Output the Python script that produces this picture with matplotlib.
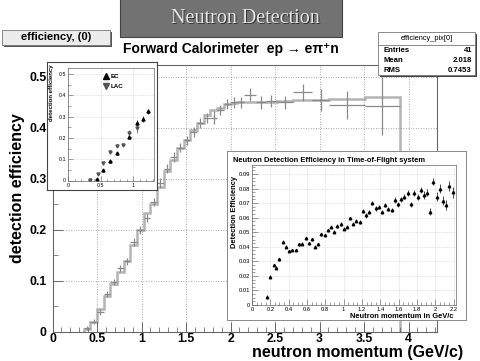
import matplotlib
matplotlib.use('Agg')
import matplotlib.pyplot as plt
from matplotlib.patches import Rectangle
from matplotlib.lines import Line2D
from matplotlib.ticker import MultipleLocator

plt.rcParams['font.family'] = ['Liberation Sans', 'DejaVu Sans']

W, H = 480, 361

# main plot: forward calorimeter, ep -> e pi+ n
hist_edges = [0.35, 0.425, 0.50, 0.575, 0.65, 0.725, 0.80, 0.875, 0.95, 1.025,
              1.10, 1.175, 1.25, 1.325, 1.40, 1.475, 1.55, 1.625, 1.70, 1.775,
              1.85, 1.925, 2.00, 2.075, 2.15, 2.29, 2.40, 2.52, 2.70, 2.92,
              3.11, 3.51, 3.90]
hist_vals = [0.005, 0.02, 0.045, 0.07, 0.095, 0.118, 0.14, 0.17, 0.2, 0.233,
             0.25, 0.284, 0.316, 0.337, 0.36, 0.376, 0.396, 0.41, 0.425, 0.435,
             0.44, 0.447, 0.449, 0.45, 0.45, 0.45, 0.451, 0.452, 0.455, 0.455,
             0.457, 0.46]
pts_vals = [0.008, 0.02, 0.039, 0.075, 0.098, 0.125, 0.139, 0.176, 0.20, 0.224,
            0.255, 0.292, 0.32, 0.343, 0.361, 0.376, 0.392, 0.41, 0.42, 0.42,
            0.435, 0.447, 0.45, 0.45, 0.465, 0.45, 0.453, 0.45, 0.47, 0.455,
            0.445, 0.443]
pts_errs = [0.004, 0.005, 0.006, 0.006, 0.006, 0.007, 0.007, 0.008, 0.008, 0.008,
            0.008, 0.009, 0.009, 0.009, 0.009, 0.009, 0.01, 0.01, 0.01, 0.013,
            0.01, 0.01, 0.01, 0.011, 0.013, 0.012, 0.012, 0.012, 0.017, 0.022,
            0.027, 0.057]

# small inset: EC / LAC
ec_x = [0.44, 0.54, 0.65, 0.75, 0.94, 1.06, 1.15, 1.23]
ec_y = [0.005, 0.05, 0.09, 0.127, 0.205, 0.27, 0.29, 0.325]
ec_err = [0.004, 0.006, 0.006, 0.007, 0.01, 0.012, 0.014, 0.012]
lac_x = [0.34, 0.46, 0.54, 0.65, 0.75, 0.85, 0.94, 1.06]
lac_y = [0.003, 0.03, 0.08, 0.133, 0.164, 0.168, 0.225, 0.245]
lac_err = [0.004, 0.006, 0.007, 0.008, 0.008, 0.008, 0.01, 0.02]

# time-of-flight inset
tof_x = [0.164, 0.2, 0.236, 0.265, 0.30, 0.335, 0.375, 0.407, 0.44, 0.48,
         0.513, 0.55, 0.585, 0.618, 0.655, 0.687, 0.72, 0.756, 0.793, 0.825,
         0.865, 0.90, 0.93, 0.967, 1.0, 1.036, 1.073, 1.105, 1.14, 1.175,
         1.21, 1.247, 1.276, 1.313, 1.35, 1.385, 1.418, 1.455, 1.49, 1.527,
         1.556, 1.593, 1.63, 1.66, 1.70, 1.734, 1.77, 1.807, 1.843, 1.88,
         1.913, 1.945, 1.98, 2.02, 2.05, 2.087, 2.12, 2.156, 2.19]
tof_y = [0.0057, 0.0195, 0.0275, 0.0256, 0.0314, 0.0435, 0.040, 0.037, 0.0378, 0.0378,
         0.0417, 0.042, 0.0458, 0.0424, 0.0451, 0.040, 0.0417, 0.0486, 0.0481, 0.0513,
         0.0538, 0.0504, 0.0543, 0.0556, 0.0524, 0.0538, 0.0595, 0.056, 0.058, 0.057,
         0.0648, 0.0616, 0.0637, 0.0703, 0.0664, 0.0675, 0.064, 0.0687, 0.066, 0.0653,
         0.0721, 0.0692, 0.0726, 0.0744, 0.0767, 0.0692, 0.0767, 0.0744, 0.079, 0.0756,
         0.0772, 0.0641, 0.0847, 0.0744, 0.080, 0.0717, 0.0687, 0.082, 0.0774]
tof_err = [0.0015, 0.0008, 0.0010, 0.0012, 0.0012, 0.0012, 0.0010, 0.0008, 0.0008, 0.0008,
           0.0010, 0.0010, 0.0010, 0.0010, 0.0010, 0.0010, 0.0010, 0.0012, 0.0010, 0.0010,
           0.0010, 0.0010, 0.0012, 0.0012, 0.0012, 0.0012, 0.0012, 0.0012, 0.0012, 0.0012,
           0.0015, 0.0015, 0.0015, 0.0015, 0.0015, 0.0015, 0.0015, 0.0015, 0.0015, 0.0015,
           0.0018, 0.0018, 0.0018, 0.0018, 0.0020, 0.0018, 0.0020, 0.0020, 0.0022, 0.0025,
           0.0025, 0.0025, 0.0025, 0.0030, 0.0030, 0.0030, 0.0035, 0.0035, 0.0040]

stats_rows = [("Entries", "41"), ("Mean", "2.018"), ("RMS", "0.7453")]


def rect(x0, y0, x1, y1):
    return [x0 / W, (H - y1) / H, (x1 - x0) / W, (y1 - y0) / H]


def fx(x):
    return x / W


def fy(y):
    return 1 - y / H


fig = plt.figure(figsize=(4.8, 3.61), dpi=100)
fig.patch.set_facecolor('white')

# ---- main axes
ax = fig.add_axes(rect(52.5, 65, 437, 332))
ax.stairs(hist_vals, hist_edges, color='#b4b4b4', lw=1.8, baseline=0)
centers = [(a + b) / 2 for a, b in zip(hist_edges[:-1], hist_edges[1:])]
halfw = [(b - a) / 2 for a, b in zip(hist_edges[:-1], hist_edges[1:])]
ax.errorbar(centers, pts_vals, xerr=halfw, yerr=pts_errs, fmt='none',
            ecolor='#8a8a8a', elinewidth=0.9)
ax.set_xlim(0, 4.32)
ax.set_ylim(0, 0.5235)
ax.xaxis.set_minor_locator(MultipleLocator(0.1))
ax.yaxis.set_minor_locator(MultipleLocator(0.05))
ax.set_xticks([0, 0.5, 1, 1.5, 2, 2.5, 3, 3.5, 4])
ax.set_xticklabels(['0', '0.5', '1', '1.5', '2', '2.5', '3', '3.5', '4'])
ax.set_yticks([0, 0.1, 0.2, 0.3, 0.4, 0.5])
ax.set_yticklabels(['0', '0.1', '0.2', '0.3', '0.4', '0.5'])
ax.tick_params(direction='in', which='major', length=7, width=0.6, labelsize=8.8,
               colors='#555555', labelcolor='black')
ax.tick_params(axis='x', which='major', pad=0.5)
ax.tick_params(axis='y', which='major', pad=4.5)
ax.tick_params(direction='in', which='minor', length=3.5, width=0.5, colors='#555555')
for lab in ax.get_xticklabels() + ax.get_yticklabels():
    lab.set_fontweight('bold')
ax.grid(True, which='major', linestyle=(0, (1, 2)), color='#8c8c8c', lw=0.6)
for s in ax.spines.values():
    s.set_color('#666666')
    s.set_linewidth(0.8)
fig.text(fx(18), fy(188), 'detection efficiency', rotation=90, ha='center', va='center',
         fontsize=11.5, fontweight='bold')
fig.text(fx(463), fy(353), 'neutron momentum (GeV/c)', ha='right', va='center',
         fontsize=11.5, fontweight='bold')

# ---- small inset (EC / LAC)
pad1 = fig.add_axes(rect(47, 62, 157, 190))
pad1.set_xticks([])
pad1.set_yticks([])
for s in pad1.spines.values():
    s.set_color('#444444')
    s.set_linewidth(0.8)
ax1 = fig.add_axes(rect(68, 68, 154, 180.5))
ax1.errorbar(ec_x, ec_y, yerr=ec_err, xerr=0.02, fmt='^', ms=2.2, color='black',
             elinewidth=0.5, label='EC')
ax1.errorbar(lac_x, lac_y, yerr=lac_err, xerr=0.02, fmt='v', ms=2.2, color='#555555',
             elinewidth=0.5, label='LAC')
ax1.set_xlim(0, 1.32)
ax1.set_ylim(0, 0.528)
ax1.set_xticks([0, 0.5, 1])
ax1.set_xticklabels(['0', '0.5', '1'])
ax1.set_yticks([0, 0.1, 0.2, 0.3, 0.4, 0.5])
ax1.set_yticklabels(['0', '0.1', '0.2', '0.3', '0.4', '0.5'])
ax1.xaxis.set_minor_locator(MultipleLocator(0.1))
ax1.yaxis.set_minor_locator(MultipleLocator(0.05))
ax1.tick_params(direction='in', which='major', length=3.5, width=0.4, labelsize=3.8,
                pad=1.5, colors='#555555', labelcolor='black')
ax1.tick_params(direction='in', which='minor', length=1.8, width=0.4, colors='#555555')
ax1.grid(True, which='major', linestyle=(0, (1, 2)), color='#aaaaaa', lw=0.4)
for s in ax1.spines.values():
    s.set_color('#666666')
    s.set_linewidth(0.5)
ax1.set_ylabel('detection efficiency', fontsize=4.3, fontweight='bold', labelpad=2)
ax1.yaxis.set_label_coords(-0.165, 0.78)
handles = [Line2D([], [], marker='^', ls='none', color='black', ms=4),
           Line2D([], [], marker='v', ls='none', color='#555555', ms=4)]
ax1.legend(handles, ['EC', 'LAC'], loc='upper left', bbox_to_anchor=(0.36, 0.99),
           frameon=False, prop={'weight': 'bold', 'size': 4.5},
           handletextpad=0.2, borderpad=0.2, labelspacing=0.8, handlelength=1)

# ---- time-of-flight inset
pad2 = fig.add_axes(rect(227, 151, 466, 320))
pad2.set_xticks([])
pad2.set_yticks([])
for s in pad2.spines.values():
    s.set_color('#888888')
    s.set_linewidth(0.7)
ax2 = fig.add_axes(rect(252, 165, 456, 305))
ax2.errorbar(tof_x, tof_y, yerr=tof_err, fmt='^', ms=1.8, color='black', elinewidth=0.5)
ax2.set_xlim(0, 2.227)
ax2.set_ylim(0, 0.0962)
ax2.set_xticks([0, 0.2, 0.4, 0.6, 0.8, 1, 1.2, 1.4, 1.6, 1.8, 2, 2.2])
ax2.set_xticklabels(['0', '0.2', '0.4', '0.6', '0.8', '1', '1.2', '1.4', '1.6', '1.8',
                     '2', '2.2'])
ax2.set_yticks([0, 0.01, 0.02, 0.03, 0.04, 0.05, 0.06, 0.07, 0.08, 0.09])
ax2.set_yticklabels(['0', '0.01', '0.02', '0.03', '0.04', '0.05', '0.06', '0.07',
                     '0.08', '0.09'])
ax2.xaxis.set_minor_locator(MultipleLocator(0.05))
ax2.yaxis.set_minor_locator(MultipleLocator(0.0025))
ax2.tick_params(direction='in', which='major', length=4, width=0.4, labelsize=4.2,
                pad=1.5, colors='#555555', labelcolor='black')
ax2.tick_params(direction='in', which='minor', length=2, width=0.4, colors='#555555')
ax2.grid(True, which='major', linestyle=(0, (1, 2)), color='#aaaaaa', lw=0.4)
for s in ax2.spines.values():
    s.set_color('#666666')
    s.set_linewidth(0.5)
fig.text(fx(233), fy(160), 'Neutron Detection Efficiency in Time-of-Flight system',
         ha='left', va='center', fontsize=5.4, fontweight='bold')
fig.text(fx(234), fy(212), 'Detection Efficiency', rotation=90, ha='center', va='center',
         fontsize=5.4, fontweight='bold')
fig.text(fx(453), fy(316), 'Neutron momentum in GeV/c', ha='right', va='center',
         fontsize=5.4, fontweight='bold')

# ---- header boxes
fig.patches.append(Rectangle((fx(120), fy(37)), (342 - 120) / W, 37 / H + 0.01,
                             transform=fig.transFigure, facecolor='#727272',
                             edgecolor='#444444', lw=0.8))
fig.text(fx(246.5), fy(19.5), 'Neutron Detection', ha='center', va='center',
         family='Liberation Serif', fontsize=14.5, color='#303030')
fig.text(fx(245.5), fy(18.5), 'Neutron Detection', ha='center', va='center',
         family='Liberation Serif', fontsize=14.5, color='#e6e6e6')

fig.patches.append(Rectangle((fx(4), fy(47)), 108 / W, 15 / H, transform=fig.transFigure,
                             facecolor='#555555', edgecolor='none'))
fig.patches.append(Rectangle((fx(2), fy(45)), 108 / W, 15 / H, transform=fig.transFigure,
                             facecolor='#ececec', edgecolor='#777777', lw=0.6))
fig.text(fx(56), fy(37.5), 'efficiency, (0)', ha='center', va='center',
         fontsize=8, fontweight='bold')

fig.text(fx(231), fy(48.5), 'Forward Calorimeter  ep \u2192 e\u03c0\u207an', ha='center',
         va='center', fontsize=10, fontweight='bold')

# stats box
fig.patches.append(Rectangle((fx(380), fy(77)), 97 / W, 43 / H, transform=fig.transFigure,
                             facecolor='#444444', edgecolor='none'))
fig.patches.append(Rectangle((fx(378), fy(75)), 97 / W, 43 / H, transform=fig.transFigure,
                             facecolor='white', edgecolor='#777777', lw=0.6))
fig.lines.append(Line2D([fx(378), fx(475)], [fy(44.5), fy(44.5)], transform=fig.transFigure,
                        color='#777777', lw=0.6))
fig.text(fx(426.5), fy(38.5), 'efficiency_pix[0]', ha='center', va='center', fontsize=5.3)
for i, (k, v) in enumerate(stats_rows):
    yy = fy(50 + 10 * i)
    fig.text(fx(383), yy, k, ha='left', va='center', fontsize=5.6, fontweight='bold')
    fig.text(fx(472), yy, v, ha='right', va='center', fontsize=5.6, fontweight='bold')

fig.savefig('out.png', dpi=100)
